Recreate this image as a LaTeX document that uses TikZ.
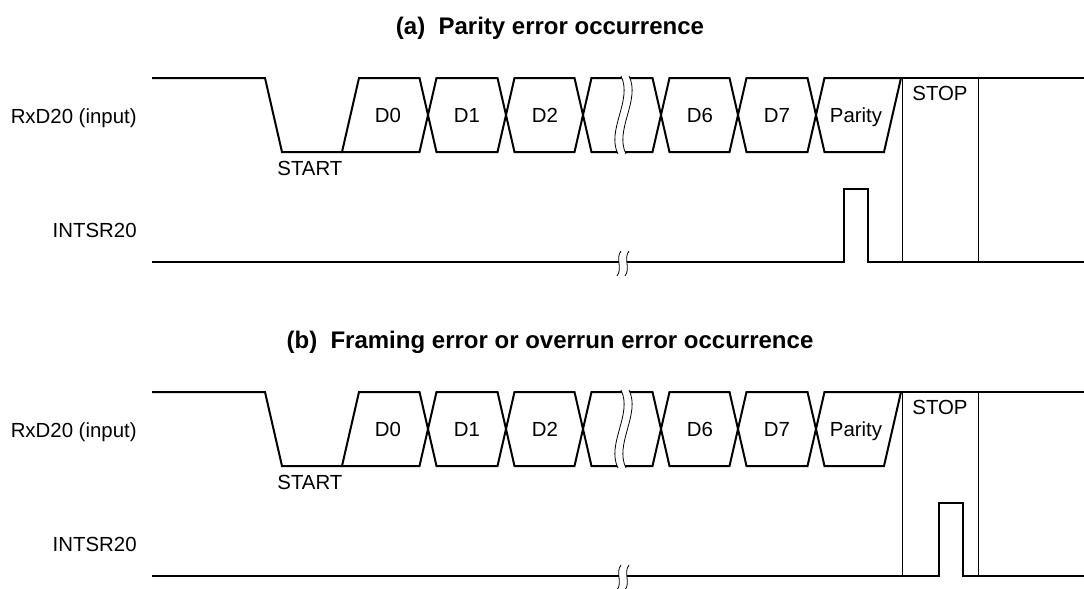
\documentclass[tikz,border=0pt]{standalone}
\usepackage{fontspec}
\setmainfont{Liberation Sans}
\usetikzlibrary{calc}
\tikzset{sig/.style={line width=1pt,line join=miter},guide/.style={line width=0.5pt},brk/.style={line width=0.4pt},lbl/.style={font=\fontsize{10.2}{12}\selectfont,inner sep=0pt},ttl/.style={font=\fontsize{12}{14}\selectfont\bfseries,inner sep=0pt}}

\begin{document}
\begin{tikzpicture}[x=0.5pt,y=-0.5pt]
\useasboundingbox (0,0) rectangle (1084,589);
\node[ttl,anchor=base] (ttla) at (550,34) {(a)\ \ Parity error occurrence};
\node[ttl,anchor=base] (ttlb) at (550,348) {(b)\ \ Framing error or overrun error occurrence};
\foreach \p/\dy/\px in {a/0/844,b/314/939}{
\begin{scope}[shift={(0,\dy)}]
\node[lbl,anchor=base east] (rxd\p) at (137,123) {RxD20 (input)};
\node[lbl,anchor=base east] (int\p) at (137,237) {INTSR20};
\node[lbl,anchor=base west] (sta\p) at (277,175) {START};
\node[lbl,anchor=base] (stp\p) at (940,100) {STOP};
\foreach \t/\x in {D0/388,D1/467,D2/545,D6/700,D7/777,Parity/856}{\node[lbl,anchor=base] (\t\p) at (\x,122) {\t};}
% STOP bit guides
\draw[guide] (902,78) -- (902,262);
\draw[guide] (978,78) -- (978,262);
% RxD20
\draw[sig] (152,78) -- (265,78) -- (282,152) -- (342,152);
\draw[sig] (342,152) -- (359,78) -- (419.5,78) -- (428,115) -- (419.5,152) -- cycle;
\foreach \a/\b in {428/506,506/583,583/661,661/738,738/816}{\draw[sig] (\a,115) -- (\a+8.5,78) -- (\b-8.5,78) -- (\b,115) -- (\b-8.5,152) -- (\a+8.5,152) -- cycle;}
\draw[sig] (816,115) -- (824.5,78) -- (901,78) -- (884,152) -- (824.5,152) -- cycle;
\draw[sig] (901,78) -- (1084,78);
\fill[white] (621,76) .. controls (633,100) and (606,130) .. (618,154) -- (626,154) .. controls (614,130) and (641,100) .. (629,76) -- cycle;
\draw[brk] (621,76) .. controls (633,100) and (606,130) .. (618,154);
\draw[brk] (629,76) .. controls (641,100) and (614,130) .. (626,154);
% INTSR20
\draw[sig] (152,262) -- (619,262);
\draw[sig] (627,262) -- (\px,262) -- (\px,189) -- (\px+24,189) -- (\px+24,262) -- (1084,262);
\draw[brk] (621,251) .. controls (615,259) and (623,268) .. (617,276);
\draw[brk] (629,251) .. controls (623,259) and (631,268) .. (625,276);
\end{scope}}
\end{tikzpicture}
\end{document}
